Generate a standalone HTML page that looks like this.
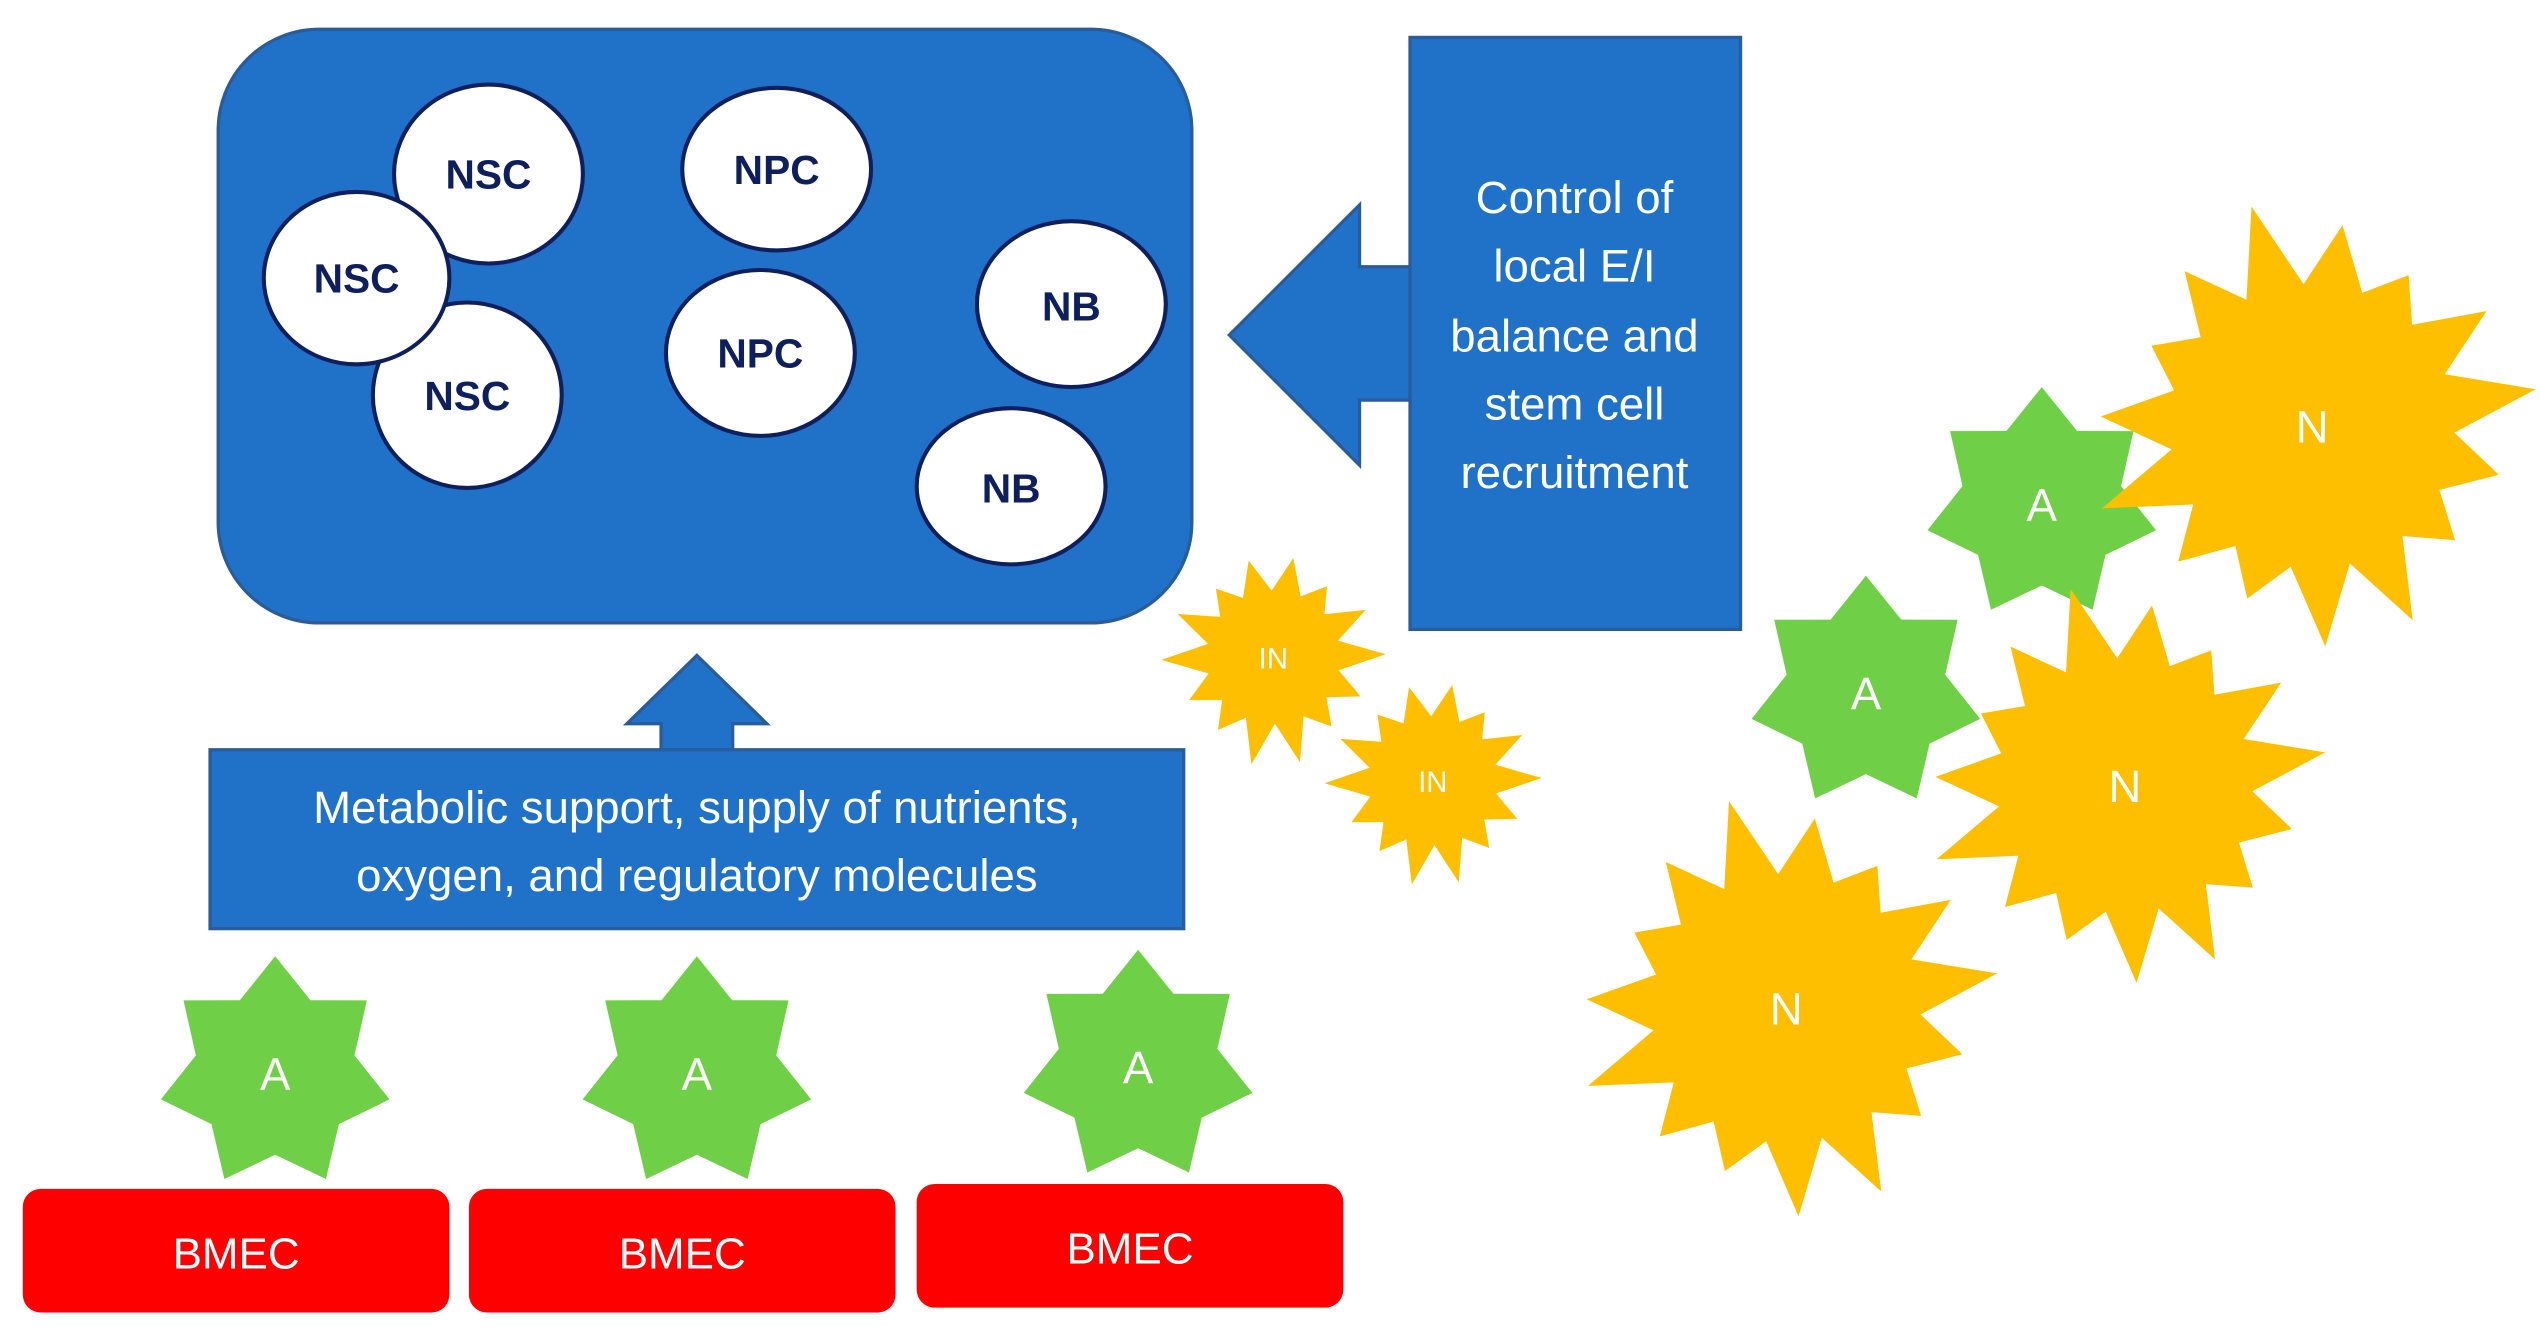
<!DOCTYPE html>
<html><head><meta charset="utf-8"><style>
html,body{margin:0;padding:0;background:#fff;}
svg{display:block;}
text{font-family:"Liberation Sans","DejaVu Sans",sans-serif;}
</style></head><body>
<svg id="s" width="2540" height="1332" viewBox="0 0 1560 819" preserveAspectRatio="none" xmlns="http://www.w3.org/2000/svg">
<rect x="0" y="0" width="1560" height="819" fill="#fff"/>
<rect x="134" y="18" width="598" height="365" rx="62" fill="#2071c8" stroke="#2a5c9a" stroke-width="2"/>
<g fill="#fff" stroke="#0d1f5c" stroke-width="2.5">
<ellipse cx="300" cy="107" rx="58" ry="55"/>
<ellipse cx="287" cy="243" rx="58" ry="57"/>
<ellipse cx="219" cy="171" rx="57" ry="53"/>
<ellipse cx="477" cy="104" rx="58" ry="50"/>
<ellipse cx="467" cy="217" rx="58" ry="51"/>
<ellipse cx="658" cy="187" rx="58" ry="51"/>
<ellipse cx="621" cy="299" rx="58" ry="48"/>
</g>
<g fill="#0d1f5c" font-weight="bold" font-size="25" text-anchor="middle">
<text x="300" y="116">NSC</text>
<text x="219" y="180">NSC</text>
<text x="287" y="252">NSC</text>
<text x="477" y="113">NPC</text>
<text x="467" y="226">NPC</text>
<text x="658" y="197">NB</text>
<text x="621" y="309">NB</text>
</g>
<polygon points="755,206 835,126 835,164 868,164 868,246 835,246 835,286" fill="#2071c8" stroke="#2a5c9a" stroke-width="2"/>
<rect x="866" y="23" width="203" height="364" fill="#2071c8" stroke="#2a5c9a" stroke-width="2"/>
<g fill="#fff" font-size="28" text-anchor="middle">
<text x="967" y="131">Control of</text>
<text x="967" y="173">local E/I</text>
<text x="967" y="216">balance and</text>
<text x="967" y="258">stem cell</text>
<text x="967" y="300">recruitment</text>
</g>
<polygon points="428,403 471,445 450,445 450,462 406,462 406,445 385,445" fill="#2071c8" stroke="#2a5c9a" stroke-width="2"/>
<rect x="129" y="461" width="598" height="110" fill="#2071c8" stroke="#2a5c9a" stroke-width="2"/>
<g fill="#fff" font-size="28" text-anchor="middle">
<text x="428" y="506">Metabolic support, supply of nutrients,</text>
<text x="428" y="548">oxygen, and regulatory molecules</text>
</g>
<g id="stars"></g>
<g fill="#fe0000">
<rect x="14" y="731" width="262" height="76" rx="11"/>
<rect x="288" y="731" width="262" height="76" rx="11"/>
<rect x="563" y="728" width="262" height="76" rx="11"/>
</g>
<g fill="#fff" font-size="27" text-anchor="middle">
<text x="145" y="780">BMEC</text>
<text x="419" y="780">BMEC</text>
<text x="694" y="777">BMEC</text>
</g>
<g id="labels" fill="#fff" text-anchor="middle"></g>
</svg>
<script>
var NS="http://www.w3.org/2000/svg";
var g=document.getElementById('stars'),L=document.getElementById('labels');
function star(cx,cy,n,ro,ri,rot,col,jit){
  var p=[];
  for(var i=0;i<2*n;i++){
    var a=rot+Math.PI*i/n-Math.PI/2;
    var r=(i%2==0)?ro*(jit?(1+0.12*Math.sin(i*2.3)):1):ri;
    p.push((cx+r*Math.cos(a)).toFixed(1)+','+(cy+r*Math.sin(a)).toFixed(1));
  }
  var e=document.createElementNS(NS,'polygon');
  e.setAttribute('points',p.join(' '));e.setAttribute('fill',col);g.appendChild(e);
}
function lab(x,y,t,s){var e=document.createElementNS(NS,'text');e.setAttribute('x',x);e.setAttribute('y',y);e.setAttribute('font-size',s);e.textContent=t;L.appendChild(e);}
var G="#6fcf46",Y="#fdbf00";
[[169,660],[428,660],[699,656],[1254,310],[1146,426]].forEach(function(c){star(c[0],c[1],7,72,50,0,G,false);lab(c[0],c[1]+10,'A',28);});
[[782,404,62,'IN',18],[880,480,60,'IN',18]].forEach(function(c){star(c[0],c[1],14,c[2],c[2]*0.66,0.2,Y,true);lab(c[0],c[1]+7,c[3],c[4]);});
[[1420,262,125],[1305,483,112],[1097,620,118]].forEach(function(c){star(c[0],c[1],15,c[2],c[2]*0.7,0.15,Y,true);lab(c[0],c[1]+10,'N',28);});
</script>
</body></html>
